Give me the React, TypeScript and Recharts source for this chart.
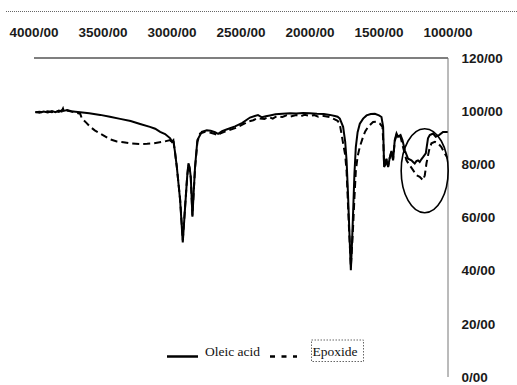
import React from 'react';
import { LineChart, Line, XAxis, YAxis, ReferenceDot, Legend } from 'recharts';

// wavenumber ticks (top axis) and transmittance ticks (right axis)
const xTicks = [4000, 3500, 3000, 2500, 2000, 1500, 1000];
const yTicks = [0, 20, 40, 60, 80, 100, 120];

// Oleic acid spectrum
const oleicWavenumber = [
  3990, 3960, 3930, 3900, 3870, 3845, 3820, 3800, 3790, 3785, 3760, 3730, 3700, 3665, 3600, 3520,
  3450, 3376, 3300, 3231, 3160, 3122, 3086, 3050, 3013, 3001, 2990, 2978, 2965, 2941, 2922, 2905,
  2890, 2881, 2873, 2864, 2852, 2843, 2833, 2816, 2784, 2748, 2720, 2688, 2666, 2637, 2600, 2543,
  2490, 2435, 2400, 2377, 2348, 2320, 2290, 2250, 2200, 2145, 2100, 2050, 2001, 1950, 1900, 1856,
  1820, 1800, 1784, 1760, 1745, 1735, 1725, 1716, 1704, 1695, 1687, 1678, 1668, 1655, 1639, 1615,
  1590, 1560, 1530, 1500, 1482, 1470, 1463, 1455, 1446, 1440, 1434, 1422, 1410, 1398, 1386, 1373,
  1362, 1344, 1330, 1313, 1289, 1265, 1253, 1241, 1229, 1217, 1205, 1193, 1181, 1161, 1145, 1132,
  1108, 1089, 1065, 1036, 1000,
];
const oleicTransmittance = [
  99.7, 99.4, 99.9, 99.5, 100.0, 99.6, 100.2, 99.9, 101.0, 100.1, 100.4, 100.0, 99.8, 99.6, 99.2, 98.6,
  97.9, 97.1, 96.3, 95.2, 94.1, 93.4, 92.2, 91.4, 89.8, 88.5, 89.1, 84.5, 79.0, 66.4, 50.6, 63.9,
  75.4, 80.4, 79.0, 75.3, 60.3, 69.3, 79.0, 89.1, 92.2, 92.8, 92.6, 92.1, 91.5, 92.5, 93.2, 94.3,
  95.6, 97.6, 98.2, 98.5, 97.7, 98.1, 98.4, 98.8, 99.0, 99.2, 99.1, 99.3, 99.2, 99.0, 98.9, 98.6,
  98.2, 97.9, 97.2, 94.1, 88.5, 81.5, 69.3, 56.5, 40.2, 51.2, 62.8, 76.4, 86.5, 92.1, 95.3, 97.2,
  98.4, 98.9, 99.0, 98.4, 97.8, 94.1, 79.0, 79.9, 82.1, 80.4, 79.0, 82.5, 85.0, 81.5, 89.1, 91.6,
  90.4, 91.0, 89.1, 85.3, 82.1, 81.5, 80.9, 80.3, 81.2, 81.5, 80.9, 81.9, 82.7, 84.1, 89.8, 91.0,
  91.6, 90.4, 91.0, 92.2, 92.2,
];

// Epoxide spectrum
const epoxideWavenumber = [
  3990, 3960, 3930, 3900, 3870, 3845, 3820, 3800, 3785, 3760, 3730, 3700, 3665, 3653, 3620, 3593,
  3560, 3520, 3448, 3400, 3352, 3290, 3231, 3180, 3135, 3062, 3014, 3001, 2990, 2978, 2965, 2941,
  2922, 2905, 2890, 2881, 2873, 2864, 2852, 2843, 2833, 2816, 2797, 2760, 2720, 2688, 2666, 2652,
  2600, 2543, 2490, 2450, 2411, 2380, 2362, 2330, 2300, 2270, 2240, 2200, 2170, 2145, 2100, 2070,
  2040, 2001, 1970, 1940, 1900, 1856, 1832, 1800, 1784, 1760, 1745, 1735, 1725, 1716, 1704, 1695,
  1687, 1678, 1668, 1655, 1639, 1615, 1600, 1579, 1560, 1543, 1520, 1494, 1475, 1468, 1463, 1455,
  1446, 1440, 1434, 1422, 1410, 1398, 1386, 1373, 1362, 1344, 1326, 1301, 1277, 1253, 1229, 1205,
  1181, 1168, 1156, 1137, 1120, 1096, 1072, 1048, 1024, 1000,
];
const epoxideTransmittance = [
  99.6, 99.8, 99.5, 100.0, 99.6, 100.1, 99.7, 100.3, 99.8, 100.2, 99.9, 99.5, 99.0, 97.2, 95.6, 94.1,
  92.8, 91.6, 89.4, 88.6, 88.3, 87.8, 87.6, 87.7, 87.9, 88.5, 89.1, 88.2, 88.9, 84.5, 79.0, 66.7,
  51.5, 64.2, 75.4, 80.0, 78.5, 74.9, 60.8, 69.3, 78.6, 88.4, 91.6, 92.2, 91.9, 91.4, 90.8, 91.6,
  92.6, 93.6, 94.9, 96.1, 96.6, 97.4, 97.2, 97.1, 97.8, 97.2, 98.1, 97.8, 98.4, 97.9, 98.5, 98.0,
  98.6, 98.2, 98.5, 97.9, 98.2, 97.8, 97.2, 96.4, 95.1, 87.9, 83.5, 77.4, 65.2, 54.2, 41.5, 49.2,
  57.3, 67.4, 77.4, 83.0, 86.6, 90.4, 92.4, 94.1, 95.1, 95.9, 96.0, 95.3, 94.1, 87.5, 79.4, 79.9,
  81.9, 80.4, 79.2, 82.5, 84.7, 81.9, 88.6, 91.1, 90.1, 90.4, 86.5, 81.5, 79.6, 77.8, 75.9, 75.3,
  74.0, 75.9, 80.4, 85.3, 87.9, 88.5, 87.9, 86.5, 84.1, 82.1,
];

// the hand-drawn ring around the fingerprint region
const ringCenter = { wn: 1169, value: 77.6 };

const oleicData = oleicWavenumber.map((wn, i) => ({ wn, value: oleicTransmittance[i] }));
const epoxideData = epoxideWavenumber.map((wn, i) => ({ wn, value: epoxideTransmittance[i] }));

const tickFont = {
  fontFamily: "'Liberation Sans', Arial, sans-serif",
  fontSize: 13.5,
  fontWeight: 700,
  fill: '#1a1a1a',
};

const fmt = (v: number) => `${v}/00`;

const LegendBox = () => (
  <svg width={210} height={26} style={{ display: 'block' }}>
    <line x1={7} y1={18.5} x2={38} y2={18.5} stroke="#000" strokeWidth={2.5} />
    <text x={45} y={18} fontFamily="'Liberation Serif', serif" fontSize={13.5} fill="#111">
      Oleic acid
    </text>
    <line x1={110} y1={18.5} x2={137} y2={18.5} stroke="#000" strokeWidth={2.5} strokeDasharray="5 6.5" />
    <rect x={151.5} y={2} width={52} height={21.5} fill="none" stroke="#666" strokeWidth={1} strokeDasharray="1.5 1.5" />
    <text x={152.5} y={18} fontFamily="'Liberation Serif', serif" fontSize={13.5} fill="#111">
      Epoxide
    </text>
  </svg>
);

const App: React.FC = () => {
  return (
    <div style={{ position: 'absolute', left: 0, top: 0, width: 517, height: 385, background: '#fff' }}>
      <div style={{ position: 'absolute', left: 6, top: 11, width: 511, borderTop: '1px dotted #666' }} />
      <LineChart width={517} height={385} margin={{ top: 0, right: 1, bottom: 8, left: 34 }}>
        <XAxis
          type="number"
          dataKey="wn"
          orientation="top"
          domain={[1000, 4000]}
          reversed
          ticks={xTicks}
          interval={0}
          tickFormatter={fmt}
          height={58}
          tickLine={false}
          tickSize={19}
          tickMargin={2}
          tick={tickFont}
          axisLine={{ stroke: '#555', strokeWidth: 1.5 }}
          allowDataOverflow
        />
        <YAxis
          type="number"
          dataKey="value"
          orientation="right"
          domain={[0, 120]}
          ticks={yTicks}
          interval={0}
          tickFormatter={fmt}
          width={68}
          tickLine={false}
          tickSize={11}
          tickMargin={2.5}
          tick={{ ...tickFont, textAnchor: 'start' }}
          axisLine={{ stroke: '#777', strokeWidth: 1 }}
        />
        <Line
          data={oleicData}
          dataKey="value"
          type="linear"
          stroke="#000"
          strokeWidth={2}
          dot={false}
          isAnimationActive={false}
          name="Oleic acid"
        />
        <Line
          data={epoxideData}
          dataKey="value"
          type="linear"
          stroke="#000"
          strokeWidth={2}
          strokeDasharray="7 4"
          dot={false}
          isAnimationActive={false}
          name="Epoxide"
        />
        <ReferenceDot
          x={ringCenter.wn}
          y={ringCenter.value}
          ifOverflow="visible"
          shape={(p: any) => (
            <ellipse cx={p.cx} cy={p.cy} rx={23.5} ry={42} fill="none" stroke="#000" strokeWidth={1.6} />
          )}
        />
        <Legend
          layout="horizontal"
          verticalAlign="middle"
          align="center"
          wrapperStyle={{ left: 160, top: 338, width: 210 }}
          content={() => <LegendBox />}
        />
      </LineChart>
    </div>
  );
};

export default App;
